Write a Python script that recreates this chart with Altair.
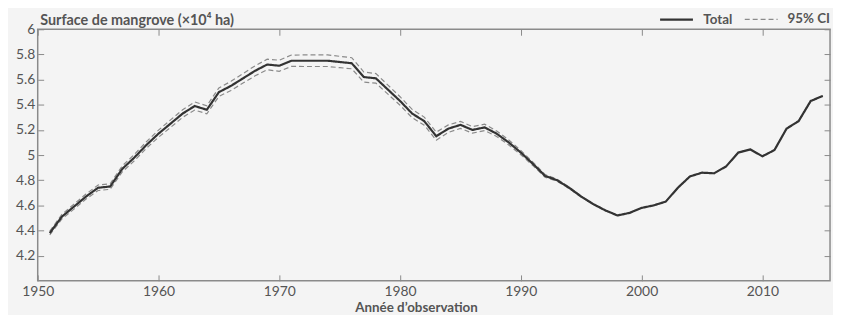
import altair as alt
import pandas as pd

years = list(range(1951, 2016))
total = [4.38, 4.51, 4.59, 4.67, 4.74, 4.75, 4.89, 4.98, 5.08, 5.17,
         5.25, 5.33, 5.39, 5.36, 5.50, 5.55, 5.61, 5.67, 5.72, 5.71,
         5.75, 5.75, 5.75, 5.75, 5.74, 5.73, 5.62, 5.61, 5.52, 5.43,
         5.33, 5.27, 5.15, 5.21, 5.24, 5.20, 5.22, 5.17, 5.10, 5.02,
         4.93, 4.835, 4.80, 4.74, 4.67, 4.61, 4.56, 4.52, 4.54, 4.58,
         4.60, 4.63, 4.74, 4.83, 4.86, 4.855, 4.91, 5.02, 5.045, 4.99,
         5.04, 5.21, 5.27, 5.43, 5.47]
ci_half = [0.015, 0.018, 0.020, 0.020, 0.022, 0.022, 0.024, 0.025, 0.026, 0.028,
           0.030, 0.030, 0.032, 0.032, 0.034, 0.036, 0.038, 0.040, 0.042, 0.044,
           0.045, 0.046, 0.046, 0.046, 0.045, 0.044, 0.040, 0.038, 0.036, 0.034,
           0.033, 0.032, 0.032, 0.030, 0.028, 0.026, 0.025, 0.022, 0.020, 0.017,
           0.014, 0.011, 0.008, 0.006, 0.004, 0.003, 0.002, 0.0, 0.0, 0.0,
           0.0, 0.0, 0.0, 0.0, 0.0, 0.0, 0.0, 0.0, 0.0, 0.0,
           0.0, 0.0, 0.0, 0.0, 0.0]
x_ticks = [1950, 1960, 1970, 1980, 1990, 2000, 2010]
y_ticks = [4.2, 4.4, 4.6, 4.8, 5.0, 5.2, 5.4, 5.6, 5.8, 6.0]
series_names = ["Total", "95% CI"]

tot_df = pd.DataFrame({"year": years, "value": total, "series": "Total", "line": "Total"})
ci_rows = []
for yr, t, h in zip(years, total, ci_half):
    ci_rows.append({"year": yr, "value": t + h, "series": "95% CI", "line": "upper"})
    ci_rows.append({"year": yr, "value": t - h, "series": "95% CI", "line": "lower"})
ci_df = pd.DataFrame(ci_rows)

FONT = "Lato"
TXT = "#555555"
TICK = "#8a8a8a"

x_scale = alt.Scale(domain=[1950, 2015.6], nice=False, zero=False)
y_scale = alt.Scale(domain=[4, 6], nice=False, zero=False)

leg = alt.Legend(title=None, orient="none", legendX=627, legendY=-28,
                 direction="horizontal", symbolType="stroke", symbolSize=1100,
                 symbolStrokeWidth=2, labelFont=FONT, labelFontWeight="bold",
                 labelFontSize=13.5, labelColor=TXT, labelOffset=9,
                 columnPadding=9, padding=0, labelLimit=300)

color_enc = alt.Color("series:N", scale=alt.Scale(domain=series_names, range=["#333333", "#8a8a8a"]), legend=leg)
dash_enc = alt.StrokeDash("series:N", scale=alt.Scale(domain=series_names, range=[[1, 0], [5, 3]]), legend=leg)
width_enc = alt.StrokeWidth("series:N", scale=alt.Scale(domain=series_names, range=[2.2, 1.2]), legend=leg)

ci_layer = alt.Chart(ci_df).mark_line().encode(
    x=alt.X("year:Q", scale=x_scale, axis=None),
    y=alt.Y("value:Q", scale=y_scale, axis=None),
    detail="line:N",
    color=color_enc, strokeDash=dash_enc, strokeWidth=width_enc,
)

total_layer = alt.Chart(tot_df).mark_line().encode(
    x=alt.X("year:Q", scale=x_scale,
            axis=alt.Axis(orient="bottom", values=x_ticks, format="d", offset=-6, tickSize=6,
                          domain=False, grid=False, labelFlush=False, labelPadding=4,
                          tickColor=TICK, labelFont=FONT, labelFontSize=14, labelColor=TXT,
                          title="Année d’observation", titleFont=FONT, titleFontSize=13.5,
                          titleFontWeight="bold", titleColor=TXT, titleX=382, titleY=33,
                          titleBaseline="middle", titleAnchor="start", titleAlign="center")),
    y=alt.Y("value:Q", scale=y_scale,
            axis=alt.Axis(orient="left", values=y_ticks, format="~g", offset=-6, tickSize=6,
                          domain=False, grid=False, labelPadding=3, tickColor=TICK,
                          labelFont=FONT, labelFontSize=14, labelColor=TXT,
                          title="Surface de mangrove (×10⁴ ha)", titleFont=FONT,
                          titleFontSize=14.5, titleFontWeight="bold", titleColor=TXT,
                          titleAngle=0, titleAlign="left", titleBaseline="alphabetic",
                          titleAnchor="start", titleX=-4, titleY=-5)),
    color=color_enc, strokeDash=dash_enc, strokeWidth=width_enc,
)

frame_layer = alt.Chart(tot_df).mark_line(opacity=0).encode(
    x=alt.X("year:Q", scale=x_scale,
            axis=alt.Axis(orient="top", values=x_ticks, offset=-6, tickSize=6, labels=False,
                          domain=False, grid=False, tickColor=TICK, title=None)),
    y=alt.Y("value:Q", scale=y_scale,
            axis=alt.Axis(orient="right", values=y_ticks, offset=-6, tickSize=6, labels=False,
                          domain=False, grid=False, tickColor=TICK, title=None)),
)

chart = alt.layer(ci_layer, total_layer, frame_layer).resolve_scale(
    x="independent", y="independent"
).properties(
    width=800, height=254,
    autosize=alt.AutoSizeParams(type="none"),
    padding={"left": 30, "top": 20, "right": 3, "bottom": 33},
    background="#f4f4f4",
).configure_view(stroke="#8a8a8a", strokeWidth=1.5)

chart.save("out.html", embed_options={"renderer": "svg", "actions": False})
